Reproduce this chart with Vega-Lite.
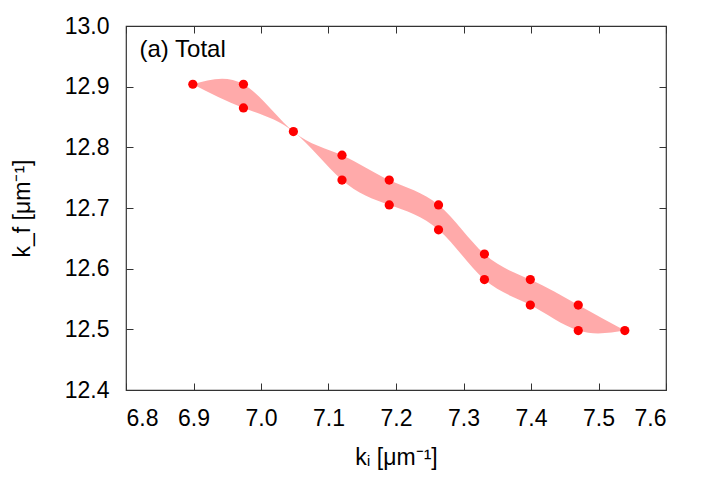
{
  "$schema": "https://vega.github.io/schema/vega-lite/v6.json",
  "width": 540,
  "height": 364,
  "autosize": "none",
  "padding": {"left": 126, "top": 26, "right": 46, "bottom": 108},
  "background": "white",
  "config": {
    "view": {"stroke": "#333333", "strokeWidth": 1.2},
    "font": "Liberation Sans",
    "axis": {
      "domain": false,
      "grid": false,
      "tickColor": "#333333",
      "tickSize": -7,
      "labelFont": "Liberation Sans",
      "labelFontSize": 23,
      "labelColor": "black",
      "titleFont": "Liberation Sans",
      "titleFontSize": 23,
      "titleFontWeight": "normal",
      "titleColor": "black"
    }
  },
  "datasets": {
    "band": [
      {"ki": 6.899, "lo": 12.904, "hi": 12.904},
      {"ki": 6.974, "lo": 12.865, "hi": 12.904},
      {"ki": 7.048, "lo": 12.826, "hi": 12.826},
      {"ki": 7.120, "lo": 12.746, "hi": 12.787},
      {"ki": 7.190, "lo": 12.705, "hi": 12.746},
      {"ki": 7.263, "lo": 12.664, "hi": 12.705},
      {"ki": 7.331, "lo": 12.582, "hi": 12.624},
      {"ki": 7.399, "lo": 12.540, "hi": 12.582},
      {"ki": 7.470, "lo": 12.498, "hi": 12.540},
      {"ki": 7.539, "lo": 12.498, "hi": 12.498}
    ],
    "points": [
      {"ki": 6.899, "kf": 12.904},
      {"ki": 6.974, "kf": 12.904},
      {"ki": 6.974, "kf": 12.865},
      {"ki": 7.048, "kf": 12.826},
      {"ki": 7.120, "kf": 12.787},
      {"ki": 7.120, "kf": 12.746},
      {"ki": 7.190, "kf": 12.746},
      {"ki": 7.190, "kf": 12.705},
      {"ki": 7.263, "kf": 12.705},
      {"ki": 7.263, "kf": 12.664},
      {"ki": 7.331, "kf": 12.624},
      {"ki": 7.331, "kf": 12.582},
      {"ki": 7.399, "kf": 12.582},
      {"ki": 7.399, "kf": 12.540},
      {"ki": 7.470, "kf": 12.540},
      {"ki": 7.470, "kf": 12.498},
      {"ki": 7.539, "kf": 12.498}
    ],
    "label": [{"ki": 6.82, "kf": 12.96, "text": "(a) Total"}]
  },
  "layer": [
    {
      "data": {"name": "band"},
      "mark": {"type": "area", "interpolate": "natural", "color": "#ffaaaa", "opacity": 1},
      "encoding": {
        "x": {"field": "ki", "type": "quantitative",
              "scale": {"domain": [6.8, 7.6], "nice": false, "zero": false},
              "axis": {"orient": "bottom", "values": [6.8, 6.9, 7.0, 7.1, 7.2, 7.3, 7.4, 7.5, 7.6], "format": ".1f", "title": "kᵢ [μm⁻¹]", "labelPadding": 24, "titlePadding": 16}},
        "y": {"field": "lo", "type": "quantitative",
              "scale": {"domain": [12.4, 13.0], "nice": false, "zero": false},
              "axis": {"orient": "left", "values": [12.4, 12.5, 12.6, 12.7, 12.8, 12.9, 13.0], "format": ".1f", "title": "k_f [μm⁻¹]", "labelPadding": 24, "titlePadding": 30}},
        "y2": {"field": "hi"}
      }
    },
    {
      "data": {"name": "points"},
      "mark": {"type": "circle", "color": "#ff0000", "opacity": 1, "size": 85},
      "encoding": {
        "x": {"field": "ki", "type": "quantitative",
              "axis": {"orient": "top", "values": [6.8, 6.9, 7.0, 7.1, 7.2, 7.3, 7.4, 7.5, 7.6], "labels": false, "title": null}},
        "y": {"field": "kf", "type": "quantitative",
              "axis": {"orient": "right", "values": [12.4, 12.5, 12.6, 12.7, 12.8, 12.9, 13.0], "labels": false, "title": null}}
      }
    },
    {
      "data": {"name": "label"},
      "mark": {"type": "text", "align": "left", "baseline": "middle", "fontSize": 24, "font": "Liberation Sans", "color": "black"},
      "encoding": {
        "x": {"field": "ki", "type": "quantitative", "axis": null},
        "y": {"field": "kf", "type": "quantitative", "axis": null},
        "text": {"field": "text"}
      }
    }
  ],
  "resolve": {"axis": {"x": "independent", "y": "independent"}}
}
